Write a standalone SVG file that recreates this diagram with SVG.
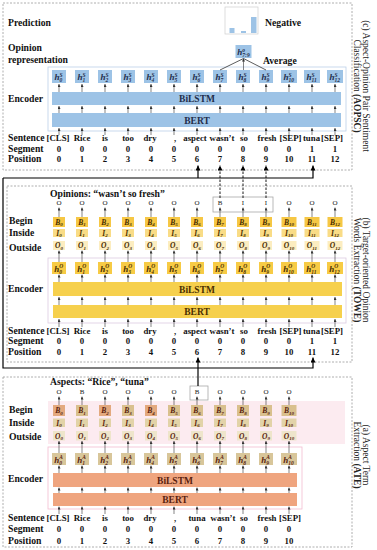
<svg xmlns="http://www.w3.org/2000/svg" width="377" height="550" viewBox="0 0 377 550">
<defs>
<marker id="t" viewBox="0 0 6 6" refX="6" refY="3" markerWidth="3" markerHeight="3" orient="auto" markerUnits="userSpaceOnUse"><path d="M0,0L6,3L0,6z" fill="#333"/></marker>
<marker id="a" viewBox="0 0 10 10" refX="10" refY="5" markerWidth="5" markerHeight="5" orient="auto" markerUnits="userSpaceOnUse"><path d="M0,0L10,5L0,10z" fill="#000"/></marker>
<style>
text{font-family:"Liberation Serif","Times New Roman",serif;fill:#111}
.lb{font-size:9.7px;font-weight:bold}
.tk{font-size:8.8px;font-weight:bold;text-anchor:middle}
.bar{font-size:9.5px;font-weight:bold;text-anchor:middle}
.side{font-size:9.5px;text-anchor:middle;fill:#222}
.out{font-size:7px;text-anchor:middle;fill:#222}
.hv{font-size:9px;font-weight:bold;font-style:italic}
.sp{font-size:5.5px}
.cv{font-size:7.5px;font-weight:bold;font-style:italic}
.cs{font-size:5px}
.panel{fill:none;stroke:#9a9a9a;stroke-width:0.8;stroke-dasharray:2 1.5}
.tick{stroke:#333;stroke-width:0.6;marker-end:url(#t)}
.big{fill:none;stroke:#000;stroke-width:1.2;marker-end:url(#a)}
.dsh{fill:none;stroke:#000;stroke-width:0.9;stroke-dasharray:2.5 1.5;marker-end:url(#a)}
.hc{fill:#9DC3E6}
.ho{fill:#F7CB45}
.ha{fill:#D8C69A}
.bo{fill:#F6C744}.io{fill:#F9DC86}.oo{fill:#FCEDC0}
.ba{fill:#D9C08E}.ba2{fill:#E3A97E}.ia{fill:#E2D3A8}.oa{fill:#EEE5CB}
.tc{fill:#1F2D4A}.to{fill:#4A2E00}.ta{fill:#5A1E0E}
</style>
</defs>

<!-- ================= Panel (c) ================= -->
<g id="panel-c">
<rect class="panel" x="3" y="3" width="349" height="167"/>
<text class="lb" x="8" y="26">Prediction</text>
<text class="lb" x="8" y="51">Opinion</text>
<text class="lb" x="8" y="62.5">representation</text>
<text class="lb" x="8" y="101.5">Encoder</text>
<text class="lb" x="8" y="141">Sentence</text>
<text class="lb" x="8" y="151.5">Segment</text>
<text class="lb" x="8" y="162">Position</text>
<text class="side" transform="translate(363,86) rotate(90)">(c) Aspect-Opinion Pair Sentiment</text>
<text class="side" transform="translate(354,86) rotate(90)">Classification <tspan font-weight="bold">(AOPSC)</tspan></text>
<rect x="48" y="67" width="298" height="64" fill="none" stroke="#BCD0E8" stroke-width="0.8"/>
</g>
<g id="c-pred">
<rect x="225" y="7" width="33" height="27" fill="#fff" stroke="#cfcfcf" stroke-width="0.7"/>
<rect x="229.5" y="28" width="5" height="5" fill="#9DC3E6"/>
<rect x="241" y="31" width="5" height="2" fill="#9DC3E6"/>
<rect x="251" y="17" width="5.5" height="16" fill="#9DC3E6"/>
<text class="lb" x="265" y="26" font-size="10">Negative</text>
</g>
<g id="c-hop">
<rect class="hc" x="235.5" y="45" width="16" height="13"/>
<text class="hv tc" x="237.3" y="55">h<tspan class="sp" dy="-3.5">o</tspan><tspan class="sp" dx="-2.7" dy="5.5">7:9</tspan></text>
<text class="lb" x="263" y="64">Average</text>
</g>
<g id="c-h0"><rect class="hc" x="52" y="70" width="14" height="13"/><text class="hv tc" x="54.5" y="80">h<tspan class="sp" dy="-3.5">S</tspan><tspan class="sp" dx="-3.1" dy="5.5">0</tspan></text></g>
<g id="c-h1"><rect class="hc" x="75" y="70" width="14" height="13"/><text class="hv tc" x="77.5" y="80">h<tspan class="sp" dy="-3.5">S</tspan><tspan class="sp" dx="-3.1" dy="5.5">1</tspan></text></g>
<g id="c-h2"><rect class="hc" x="98" y="70" width="14" height="13"/><text class="hv tc" x="100.5" y="80">h<tspan class="sp" dy="-3.5">S</tspan><tspan class="sp" dx="-3.1" dy="5.5">2</tspan></text></g>
<g id="c-h3"><rect class="hc" x="121" y="70" width="14" height="13"/><text class="hv tc" x="123.5" y="80">h<tspan class="sp" dy="-3.5">S</tspan><tspan class="sp" dx="-3.1" dy="5.5">3</tspan></text></g>
<g id="c-h4"><rect class="hc" x="144" y="70" width="14" height="13"/><text class="hv tc" x="146.5" y="80">h<tspan class="sp" dy="-3.5">S</tspan><tspan class="sp" dx="-3.1" dy="5.5">4</tspan></text></g>
<g id="c-h5"><rect class="hc" x="167" y="70" width="14" height="13"/><text class="hv tc" x="169.5" y="80">h<tspan class="sp" dy="-3.5">S</tspan><tspan class="sp" dx="-3.1" dy="5.5">5</tspan></text></g>
<g id="c-h6"><rect class="hc" x="190" y="70" width="14" height="13"/><text class="hv tc" x="192.5" y="80">h<tspan class="sp" dy="-3.5">S</tspan><tspan class="sp" dx="-3.1" dy="5.5">6</tspan></text></g>
<g id="c-h7"><rect class="hc" x="213" y="70" width="14" height="13"/><text class="hv tc" x="215.5" y="80">h<tspan class="sp" dy="-3.5">S</tspan><tspan class="sp" dx="-3.1" dy="5.5">7</tspan></text></g>
<g id="c-h8"><rect class="hc" x="236" y="70" width="14" height="13"/><text class="hv tc" x="238.5" y="80">h<tspan class="sp" dy="-3.5">S</tspan><tspan class="sp" dx="-3.1" dy="5.5">8</tspan></text></g>
<g id="c-h9"><rect class="hc" x="259" y="70" width="14" height="13"/><text class="hv tc" x="261.5" y="80">h<tspan class="sp" dy="-3.5">S</tspan><tspan class="sp" dx="-3.1" dy="5.5">9</tspan></text></g>
<g id="c-h10"><rect class="hc" x="281" y="70" width="16" height="13"/><text class="hv tc" x="283.5" y="80">h<tspan class="sp" dy="-3.5">S</tspan><tspan class="sp" dx="-3.1" dy="5.5">10</tspan></text></g>
<g id="c-h11"><rect class="hc" x="304" y="70" width="16" height="13"/><text class="hv tc" x="306.5" y="80">h<tspan class="sp" dy="-3.5">S</tspan><tspan class="sp" dx="-3.1" dy="5.5">11</tspan></text></g>
<g id="c-h12"><rect class="hc" x="327" y="70" width="16" height="13"/><text class="hv tc" x="329.5" y="80">h<tspan class="sp" dy="-3.5">S</tspan><tspan class="sp" dx="-3.1" dy="5.5">12</tspan></text></g>
<g id="c-bilstm"><rect class="hc" x="52" y="92" width="289" height="13"/><text class="bar tc" x="197" y="102">BiLSTM</text></g>
<g id="c-bert"><rect class="hc" x="52" y="113" width="289" height="14"/><text class="bar tc" x="197" y="123.5">BERT</text></g>
<g id="c-tokens">
<text class="tk" x="58" y="141">[CLS]</text><text class="tk" x="82" y="141">Rice</text><text class="tk" x="105" y="141">is</text><text class="tk" x="128" y="141">too</text><text class="tk" x="150" y="141">dry</text><text class="tk" x="175" y="141">,</text><text class="tk" x="195" y="141">aspect</text><text class="tk" x="222" y="141">wasn’t</text><text class="tk" x="244" y="141">so</text><text class="tk" x="267" y="141">fresh</text><text class="tk" x="290.5" y="141">[SEP]</text><text class="tk" x="311.5" y="141">tuna</text><text class="tk" x="332" y="141">[SEP]</text>
<text class="tk" x="59" y="151.5">0</text><text class="tk" x="82" y="151.5">0</text><text class="tk" x="105" y="151.5">0</text><text class="tk" x="128" y="151.5">0</text><text class="tk" x="151" y="151.5">0</text><text class="tk" x="174" y="151.5">0</text><text class="tk" x="197" y="151.5">0</text><text class="tk" x="220" y="151.5">0</text><text class="tk" x="243" y="151.5">0</text><text class="tk" x="266" y="151.5">0</text><text class="tk" x="289" y="151.5">0</text><text class="tk" x="312" y="151.5">1</text><text class="tk" x="335" y="151.5">1</text>
<text class="tk" x="59" y="162">0</text><text class="tk" x="82" y="162">1</text><text class="tk" x="105" y="162">2</text><text class="tk" x="128" y="162">3</text><text class="tk" x="151" y="162">4</text><text class="tk" x="174" y="162">5</text><text class="tk" x="197" y="162">6</text><text class="tk" x="220" y="162">7</text><text class="tk" x="243" y="162">8</text><text class="tk" x="266" y="162">9</text><text class="tk" x="289" y="162">10</text><text class="tk" x="312" y="162">11</text><text class="tk" x="335" y="162">12</text>
</g>

<!-- ================= Panel (b) ================= -->
<g id="panel-b">
<rect class="panel" x="7" y="186" width="345" height="176"/>
<text class="lb" x="50" y="197">Opinions: “wasn’t so fresh”</text>
<text class="lb" x="9" y="224">Begin</text>
<text class="lb" x="9" y="236">Inside</text>
<text class="lb" x="9" y="251">Outside</text>
<text class="lb" x="8" y="291.5">Encoder</text>
<text class="lb" x="8" y="334">Sentence</text>
<text class="lb" x="8" y="344">Segment</text>
<text class="lb" x="8" y="354.5">Position</text>
<text class="side" transform="translate(363,270) rotate(90)">(b) Target-oriented Opinion</text>
<text class="side" transform="translate(354,270) rotate(90)">Words Extraction <tspan font-weight="bold">(TOWE)</tspan></text>
<rect x="48" y="258" width="298" height="65" fill="none" stroke="#DCCBE0" stroke-width="0.8"/>
</g>
<g id="b-out">
<text class="out" x="59" y="205">O</text><text class="out" x="82" y="205">O</text><text class="out" x="105" y="205">O</text><text class="out" x="128" y="205">O</text><text class="out" x="151" y="205">O</text><text class="out" x="174" y="205">O</text><text class="out" x="197" y="205">O</text><text class="out" x="220" y="205">B</text><text class="out" x="243" y="205">I</text><text class="out" x="266" y="205">I</text><text class="out" x="289" y="205">O</text><text class="out" x="312" y="205">O</text><text class="out" x="335" y="205">O</text>
<rect x="213" y="197" width="60" height="15" fill="none" stroke="#a8a8a8" stroke-width="0.8"/>
</g>
<g id="b-col0"><rect class="bo" x="53" y="217" width="12" height="10"/><text class="cv to" x="55.2" y="224.5">B<tspan class="cs" dy="1.5">0</tspan></text><rect class="io" x="53" y="229" width="12" height="8"/><text class="cv to" x="56.3" y="235.5">I<tspan class="cs" dy="1.5">0</tspan></text><rect class="oo" x="53" y="241" width="12" height="9"/><text class="cv to" x="55" y="248">O<tspan class="cs" dy="1.5">0</tspan></text></g>
<g id="b-col1"><rect class="bo" x="76" y="217" width="12" height="10"/><text class="cv to" x="78.2" y="224.5">B<tspan class="cs" dy="1.5">1</tspan></text><rect class="io" x="76" y="229" width="12" height="8"/><text class="cv to" x="79.3" y="235.5">I<tspan class="cs" dy="1.5">1</tspan></text><rect class="oo" x="76" y="241" width="12" height="9"/><text class="cv to" x="78" y="248">O<tspan class="cs" dy="1.5">1</tspan></text></g>
<g id="b-col2"><rect class="bo" x="99" y="217" width="12" height="10"/><text class="cv to" x="101.2" y="224.5">B<tspan class="cs" dy="1.5">2</tspan></text><rect class="io" x="99" y="229" width="12" height="8"/><text class="cv to" x="102.3" y="235.5">I<tspan class="cs" dy="1.5">2</tspan></text><rect class="oo" x="99" y="241" width="12" height="9"/><text class="cv to" x="101" y="248">O<tspan class="cs" dy="1.5">2</tspan></text></g>
<g id="b-col3"><rect class="bo" x="122" y="217" width="12" height="10"/><text class="cv to" x="124.2" y="224.5">B<tspan class="cs" dy="1.5">3</tspan></text><rect class="io" x="122" y="229" width="12" height="8"/><text class="cv to" x="125.3" y="235.5">I<tspan class="cs" dy="1.5">3</tspan></text><rect class="oo" x="122" y="241" width="12" height="9"/><text class="cv to" x="124" y="248">O<tspan class="cs" dy="1.5">3</tspan></text></g>
<g id="b-col4"><rect class="bo" x="145" y="217" width="12" height="10"/><text class="cv to" x="147.2" y="224.5">B<tspan class="cs" dy="1.5">4</tspan></text><rect class="io" x="145" y="229" width="12" height="8"/><text class="cv to" x="148.3" y="235.5">I<tspan class="cs" dy="1.5">4</tspan></text><rect class="oo" x="145" y="241" width="12" height="9"/><text class="cv to" x="147" y="248">O<tspan class="cs" dy="1.5">4</tspan></text></g>
<g id="b-col5"><rect class="bo" x="168" y="217" width="12" height="10"/><text class="cv to" x="170.2" y="224.5">B<tspan class="cs" dy="1.5">5</tspan></text><rect class="io" x="168" y="229" width="12" height="8"/><text class="cv to" x="171.3" y="235.5">I<tspan class="cs" dy="1.5">5</tspan></text><rect class="oo" x="168" y="241" width="12" height="9"/><text class="cv to" x="170" y="248">O<tspan class="cs" dy="1.5">5</tspan></text></g>
<g id="b-col6"><rect class="bo" x="191" y="217" width="12" height="10"/><text class="cv to" x="193.2" y="224.5">B<tspan class="cs" dy="1.5">6</tspan></text><rect class="io" x="191" y="229" width="12" height="8"/><text class="cv to" x="194.3" y="235.5">I<tspan class="cs" dy="1.5">6</tspan></text><rect class="oo" x="191" y="241" width="12" height="9"/><text class="cv to" x="193" y="248">O<tspan class="cs" dy="1.5">6</tspan></text></g>
<g id="b-col7"><rect class="bo" x="214" y="217" width="12" height="10"/><text class="cv to" x="216.2" y="224.5">B<tspan class="cs" dy="1.5">7</tspan></text><rect class="io" x="214" y="229" width="12" height="8"/><text class="cv to" x="217.3" y="235.5">I<tspan class="cs" dy="1.5">7</tspan></text><rect class="oo" x="214" y="241" width="12" height="9"/><text class="cv to" x="216" y="248">O<tspan class="cs" dy="1.5">7</tspan></text></g>
<g id="b-col8"><rect class="bo" x="237" y="217" width="12" height="10"/><text class="cv to" x="239.2" y="224.5">B<tspan class="cs" dy="1.5">8</tspan></text><rect class="io" x="237" y="229" width="12" height="8"/><text class="cv to" x="240.3" y="235.5">I<tspan class="cs" dy="1.5">8</tspan></text><rect class="oo" x="237" y="241" width="12" height="9"/><text class="cv to" x="239" y="248">O<tspan class="cs" dy="1.5">8</tspan></text></g>
<g id="b-col9"><rect class="bo" x="260" y="217" width="12" height="10"/><text class="cv to" x="262.2" y="224.5">B<tspan class="cs" dy="1.5">9</tspan></text><rect class="io" x="260" y="229" width="12" height="8"/><text class="cv to" x="263.3" y="235.5">I<tspan class="cs" dy="1.5">9</tspan></text><rect class="oo" x="260" y="241" width="12" height="9"/><text class="cv to" x="262" y="248">O<tspan class="cs" dy="1.5">9</tspan></text></g>
<g id="b-col10"><rect class="bo" x="281.5" y="217" width="15" height="10"/><text class="cv to" x="284" y="224.5">B<tspan class="cs" dy="1.5">10</tspan></text><rect class="io" x="281.5" y="229" width="15" height="8"/><text class="cv to" x="285" y="235.5">I<tspan class="cs" dy="1.5">10</tspan></text><rect class="oo" x="281.5" y="241" width="15" height="9"/><text class="cv to" x="283.8" y="248">O<tspan class="cs" dy="1.5">10</tspan></text></g>
<g id="b-col11"><rect class="bo" x="304.5" y="217" width="15" height="10"/><text class="cv to" x="307" y="224.5">B<tspan class="cs" dy="1.5">11</tspan></text><rect class="io" x="304.5" y="229" width="15" height="8"/><text class="cv to" x="308" y="235.5">I<tspan class="cs" dy="1.5">11</tspan></text><rect class="oo" x="304.5" y="241" width="15" height="9"/><text class="cv to" x="306.8" y="248">O<tspan class="cs" dy="1.5">11</tspan></text></g>
<g id="b-col12"><rect class="bo" x="327.5" y="217" width="15" height="10"/><text class="cv to" x="330" y="224.5">B<tspan class="cs" dy="1.5">12</tspan></text><rect class="io" x="327.5" y="229" width="15" height="8"/><text class="cv to" x="331" y="235.5">I<tspan class="cs" dy="1.5">12</tspan></text><rect class="oo" x="327.5" y="241" width="15" height="9"/><text class="cv to" x="329.8" y="248">O<tspan class="cs" dy="1.5">12</tspan></text></g>
<g id="b-h0"><rect class="ho" x="52" y="262" width="14" height="12"/><text class="hv to" x="54.2" y="271.5">h<tspan class="sp" dy="-3.5">O</tspan><tspan class="sp" dx="-4" dy="5.5">0</tspan></text></g>
<g id="b-h1"><rect class="ho" x="75" y="262" width="14" height="12"/><text class="hv to" x="77.2" y="271.5">h<tspan class="sp" dy="-3.5">O</tspan><tspan class="sp" dx="-4" dy="5.5">1</tspan></text></g>
<g id="b-h2"><rect class="ho" x="98" y="262" width="14" height="12"/><text class="hv to" x="100.2" y="271.5">h<tspan class="sp" dy="-3.5">O</tspan><tspan class="sp" dx="-4" dy="5.5">2</tspan></text></g>
<g id="b-h3"><rect class="ho" x="121" y="262" width="14" height="12"/><text class="hv to" x="123.2" y="271.5">h<tspan class="sp" dy="-3.5">O</tspan><tspan class="sp" dx="-4" dy="5.5">3</tspan></text></g>
<g id="b-h4"><rect class="ho" x="144" y="262" width="14" height="12"/><text class="hv to" x="146.2" y="271.5">h<tspan class="sp" dy="-3.5">O</tspan><tspan class="sp" dx="-4" dy="5.5">4</tspan></text></g>
<g id="b-h5"><rect class="ho" x="167" y="262" width="14" height="12"/><text class="hv to" x="169.2" y="271.5">h<tspan class="sp" dy="-3.5">O</tspan><tspan class="sp" dx="-4" dy="5.5">5</tspan></text></g>
<g id="b-h6"><rect class="ho" x="190" y="262" width="14" height="12"/><text class="hv to" x="192.2" y="271.5">h<tspan class="sp" dy="-3.5">O</tspan><tspan class="sp" dx="-4" dy="5.5">6</tspan></text></g>
<g id="b-h7"><rect class="ho" x="213" y="262" width="14" height="12"/><text class="hv to" x="215.2" y="271.5">h<tspan class="sp" dy="-3.5">O</tspan><tspan class="sp" dx="-4" dy="5.5">7</tspan></text></g>
<g id="b-h8"><rect class="ho" x="236" y="262" width="14" height="12"/><text class="hv to" x="238.2" y="271.5">h<tspan class="sp" dy="-3.5">O</tspan><tspan class="sp" dx="-4" dy="5.5">8</tspan></text></g>
<g id="b-h9"><rect class="ho" x="259" y="262" width="14" height="12"/><text class="hv to" x="261.2" y="271.5">h<tspan class="sp" dy="-3.5">O</tspan><tspan class="sp" dx="-4" dy="5.5">9</tspan></text></g>
<g id="b-h10"><rect class="ho" x="281" y="262" width="16" height="12"/><text class="hv to" x="283.3" y="271.5">h<tspan class="sp" dy="-3.5">O</tspan><tspan class="sp" dx="-4" dy="5.5">10</tspan></text></g>
<g id="b-h11"><rect class="ho" x="304" y="262" width="16" height="12"/><text class="hv to" x="306.3" y="271.5">h<tspan class="sp" dy="-3.5">O</tspan><tspan class="sp" dx="-4" dy="5.5">11</tspan></text></g>
<g id="b-h12"><rect class="ho" x="327" y="262" width="16" height="12"/><text class="hv to" x="329.3" y="271.5">h<tspan class="sp" dy="-3.5">O</tspan><tspan class="sp" dx="-4" dy="5.5">12</tspan></text></g>
<g id="b-bilstm"><rect x="53" y="282" width="289" height="14" fill="#F6D04D"/><text class="bar to" x="197" y="292.5">BiLSTM</text></g>
<g id="b-bert"><rect x="53" y="305" width="289" height="13" fill="#F6D04D"/><text class="bar to" x="197" y="315">BERT</text></g>
<g id="b-tokens">
<text class="tk" x="58" y="334">[CLS]</text><text class="tk" x="82" y="334">Rice</text><text class="tk" x="105" y="334">is</text><text class="tk" x="128" y="334">too</text><text class="tk" x="150" y="334">dry</text><text class="tk" x="175" y="334">,</text><text class="tk" x="195" y="334">aspect</text><text class="tk" x="222" y="334">wasn’t</text><text class="tk" x="244" y="334">so</text><text class="tk" x="267" y="334">fresh</text><text class="tk" x="290.5" y="334">[SEP]</text><text class="tk" x="311.5" y="334">tuna</text><text class="tk" x="332" y="334">[SEP]</text>
<text class="tk" x="59" y="344">0</text><text class="tk" x="82" y="344">0</text><text class="tk" x="105" y="344">0</text><text class="tk" x="128" y="344">0</text><text class="tk" x="151" y="344">0</text><text class="tk" x="174" y="344">0</text><text class="tk" x="197" y="344">0</text><text class="tk" x="220" y="344">0</text><text class="tk" x="243" y="344">0</text><text class="tk" x="266" y="344">0</text><text class="tk" x="289" y="344">0</text><text class="tk" x="312" y="344">1</text><text class="tk" x="335" y="344">1</text>
<text class="tk" x="59" y="354.5">0</text><text class="tk" x="82" y="354.5">1</text><text class="tk" x="105" y="354.5">2</text><text class="tk" x="128" y="354.5">3</text><text class="tk" x="151" y="354.5">4</text><text class="tk" x="174" y="354.5">5</text><text class="tk" x="197" y="354.5">6</text><text class="tk" x="220" y="354.5">7</text><text class="tk" x="243" y="354.5">8</text><text class="tk" x="266" y="354.5">9</text><text class="tk" x="289" y="354.5">10</text><text class="tk" x="312" y="354.5">11</text><text class="tk" x="335" y="354.5">12</text>
</g>

<!-- ================= Panel (a) ================= -->
<g id="panel-a">
<rect class="panel" x="3" y="377" width="349" height="170"/>
<rect x="48" y="401" width="297" height="43" fill="#FCEBF0"/>
<text class="lb" x="50" y="385">Aspects: “Rice”, “tuna”</text>
<text class="lb" x="9" y="413">Begin</text>
<text class="lb" x="9" y="426">Inside</text>
<text class="lb" x="9" y="440">Outside</text>
<text class="lb" x="8" y="482">Encoder</text>
<text class="lb" x="8" y="521">Sentence</text>
<text class="lb" x="8" y="531.5">Segment</text>
<text class="lb" x="8" y="543.5">Position</text>
<text class="side" transform="translate(363,455) rotate(90)">(a) Aspect Term</text>
<text class="side" transform="translate(354,455) rotate(90)">Extraction <tspan font-weight="bold">(ATE)</tspan></text>
<rect x="48" y="447" width="254" height="62" fill="none" stroke="#F2BCD0" stroke-width="0.8"/>
</g>
<g id="a-out">
<text class="out" x="59" y="394">O</text><text class="out" x="82" y="394">B</text><text class="out" x="105" y="394">O</text><text class="out" x="128" y="394">O</text><text class="out" x="151" y="394">O</text><text class="out" x="174" y="394">O</text><text class="out" x="197" y="394">B</text><text class="out" x="220" y="394">O</text><text class="out" x="243" y="394">O</text><text class="out" x="266" y="394">O</text><text class="out" x="289" y="394">O</text>
<rect x="190" y="386" width="18" height="14" fill="none" stroke="#a8a8a8" stroke-width="0.8"/>
</g>
<g id="a-col0"><rect class="ba2" x="53" y="405" width="12" height="11"/><text class="cv ta" x="55.2" y="413">B<tspan class="cs" dy="1.5">0</tspan></text><rect class="ia" x="53" y="418.5" width="12" height="8.5"/><text class="cv ta" x="56.3" y="425.5">I<tspan class="cs" dy="1.5">0</tspan></text><rect class="oa" x="53" y="431" width="12" height="9.5"/><text class="cv ta" x="55" y="438.5">O<tspan class="cs" dy="1.5">0</tspan></text></g>
<g id="a-col1"><rect class="ba" x="76" y="405" width="12" height="11"/><text class="cv ta" x="78.2" y="413">B<tspan class="cs" dy="1.5">1</tspan></text><rect class="ia" x="76" y="418.5" width="12" height="8.5"/><text class="cv ta" x="79.3" y="425.5">I<tspan class="cs" dy="1.5">1</tspan></text><rect class="oa" x="76" y="431" width="12" height="9.5"/><text class="cv ta" x="78" y="438.5">O<tspan class="cs" dy="1.5">1</tspan></text></g>
<g id="a-col2"><rect class="ba2" x="99" y="405" width="12" height="11"/><text class="cv ta" x="101.2" y="413">B<tspan class="cs" dy="1.5">2</tspan></text><rect class="ia" x="99" y="418.5" width="12" height="8.5"/><text class="cv ta" x="102.3" y="425.5">I<tspan class="cs" dy="1.5">2</tspan></text><rect class="oa" x="99" y="431" width="12" height="9.5"/><text class="cv ta" x="101" y="438.5">O<tspan class="cs" dy="1.5">2</tspan></text></g>
<g id="a-col3"><rect class="ba" x="122" y="405" width="12" height="11"/><text class="cv ta" x="124.2" y="413">B<tspan class="cs" dy="1.5">3</tspan></text><rect class="ia" x="122" y="418.5" width="12" height="8.5"/><text class="cv ta" x="125.3" y="425.5">I<tspan class="cs" dy="1.5">3</tspan></text><rect class="oa" x="122" y="431" width="12" height="9.5"/><text class="cv ta" x="124" y="438.5">O<tspan class="cs" dy="1.5">3</tspan></text></g>
<g id="a-col4"><rect class="ba2" x="145" y="405" width="12" height="11"/><text class="cv ta" x="147.2" y="413">B<tspan class="cs" dy="1.5">4</tspan></text><rect class="ia" x="145" y="418.5" width="12" height="8.5"/><text class="cv ta" x="148.3" y="425.5">I<tspan class="cs" dy="1.5">4</tspan></text><rect class="oa" x="145" y="431" width="12" height="9.5"/><text class="cv ta" x="147" y="438.5">O<tspan class="cs" dy="1.5">4</tspan></text></g>
<g id="a-col5"><rect class="ba" x="168" y="405" width="12" height="11"/><text class="cv ta" x="170.2" y="413">B<tspan class="cs" dy="1.5">5</tspan></text><rect class="ia" x="168" y="418.5" width="12" height="8.5"/><text class="cv ta" x="171.3" y="425.5">I<tspan class="cs" dy="1.5">5</tspan></text><rect class="oa" x="168" y="431" width="12" height="9.5"/><text class="cv ta" x="170" y="438.5">O<tspan class="cs" dy="1.5">5</tspan></text></g>
<g id="a-col6"><rect class="ba" x="191" y="405" width="12" height="11"/><text class="cv ta" x="193.2" y="413">B<tspan class="cs" dy="1.5">6</tspan></text><rect class="ia" x="191" y="418.5" width="12" height="8.5"/><text class="cv ta" x="194.3" y="425.5">I<tspan class="cs" dy="1.5">6</tspan></text><rect class="oa" x="191" y="431" width="12" height="9.5"/><text class="cv ta" x="193" y="438.5">O<tspan class="cs" dy="1.5">6</tspan></text></g>
<g id="a-col7"><rect class="ba" x="214" y="405" width="12" height="11"/><text class="cv ta" x="216.2" y="413">B<tspan class="cs" dy="1.5">7</tspan></text><rect class="ia" x="214" y="418.5" width="12" height="8.5"/><text class="cv ta" x="217.3" y="425.5">I<tspan class="cs" dy="1.5">7</tspan></text><rect class="oa" x="214" y="431" width="12" height="9.5"/><text class="cv ta" x="216" y="438.5">O<tspan class="cs" dy="1.5">7</tspan></text></g>
<g id="a-col8"><rect class="ba" x="237" y="405" width="12" height="11"/><text class="cv ta" x="239.2" y="413">B<tspan class="cs" dy="1.5">8</tspan></text><rect class="ia" x="237" y="418.5" width="12" height="8.5"/><text class="cv ta" x="240.3" y="425.5">I<tspan class="cs" dy="1.5">8</tspan></text><rect class="oa" x="237" y="431" width="12" height="9.5"/><text class="cv ta" x="239" y="438.5">O<tspan class="cs" dy="1.5">8</tspan></text></g>
<g id="a-col9"><rect class="ba" x="260" y="405" width="12" height="11"/><text class="cv ta" x="262.2" y="413">B<tspan class="cs" dy="1.5">9</tspan></text><rect class="ia" x="260" y="418.5" width="12" height="8.5"/><text class="cv ta" x="263.3" y="425.5">I<tspan class="cs" dy="1.5">9</tspan></text><rect class="oa" x="260" y="431" width="12" height="9.5"/><text class="cv ta" x="262" y="438.5">O<tspan class="cs" dy="1.5">9</tspan></text></g>
<g id="a-col10"><rect class="ba" x="281.5" y="405" width="15" height="11"/><text class="cv ta" x="284" y="413">B<tspan class="cs" dy="1.5">10</tspan></text><rect class="ia" x="281.5" y="418.5" width="15" height="8.5"/><text class="cv ta" x="285" y="425.5">I<tspan class="cs" dy="1.5">10</tspan></text><rect class="oa" x="281.5" y="431" width="15" height="9.5"/><text class="cv ta" x="283.8" y="438.5">O<tspan class="cs" dy="1.5">10</tspan></text></g>
<g id="a-h0"><rect class="ha" x="52" y="453" width="14" height="12"/><text class="hv ta" x="54.2" y="462.5">h<tspan class="sp" dy="-3.5">A</tspan><tspan class="sp" dx="-3.7" dy="5.5">0</tspan></text></g>
<g id="a-h1"><rect class="ha" x="75" y="453" width="14" height="12"/><text class="hv ta" x="77.2" y="462.5">h<tspan class="sp" dy="-3.5">A</tspan><tspan class="sp" dx="-3.7" dy="5.5">1</tspan></text></g>
<g id="a-h2"><rect class="ha" x="98" y="453" width="14" height="12"/><text class="hv ta" x="100.2" y="462.5">h<tspan class="sp" dy="-3.5">A</tspan><tspan class="sp" dx="-3.7" dy="5.5">2</tspan></text></g>
<g id="a-h3"><rect class="ha" x="121" y="453" width="14" height="12"/><text class="hv ta" x="123.2" y="462.5">h<tspan class="sp" dy="-3.5">A</tspan><tspan class="sp" dx="-3.7" dy="5.5">3</tspan></text></g>
<g id="a-h4"><rect class="ha" x="144" y="453" width="14" height="12"/><text class="hv ta" x="146.2" y="462.5">h<tspan class="sp" dy="-3.5">A</tspan><tspan class="sp" dx="-3.7" dy="5.5">4</tspan></text></g>
<g id="a-h5"><rect class="ha" x="167" y="453" width="14" height="12"/><text class="hv ta" x="169.2" y="462.5">h<tspan class="sp" dy="-3.5">A</tspan><tspan class="sp" dx="-3.7" dy="5.5">5</tspan></text></g>
<g id="a-h6"><rect class="ha" x="190" y="453" width="14" height="12"/><text class="hv ta" x="192.2" y="462.5">h<tspan class="sp" dy="-3.5">A</tspan><tspan class="sp" dx="-3.7" dy="5.5">6</tspan></text></g>
<g id="a-h7"><rect class="ha" x="213" y="453" width="14" height="12"/><text class="hv ta" x="215.2" y="462.5">h<tspan class="sp" dy="-3.5">A</tspan><tspan class="sp" dx="-3.7" dy="5.5">7</tspan></text></g>
<g id="a-h8"><rect class="ha" x="236" y="453" width="14" height="12"/><text class="hv ta" x="238.2" y="462.5">h<tspan class="sp" dy="-3.5">A</tspan><tspan class="sp" dx="-3.7" dy="5.5">8</tspan></text></g>
<g id="a-h9"><rect class="ha" x="259" y="453" width="14" height="12"/><text class="hv ta" x="261.2" y="462.5">h<tspan class="sp" dy="-3.5">A</tspan><tspan class="sp" dx="-3.7" dy="5.5">9</tspan></text></g>
<g id="a-h10"><rect class="ha" x="281" y="453" width="16" height="12"/><text class="hv ta" x="283.3" y="462.5">h<tspan class="sp" dy="-3.5">A</tspan><tspan class="sp" dx="-3.7" dy="5.5">10</tspan></text></g>
<g id="a-bilstm"><rect x="53" y="473" width="244" height="14" fill="#EFA57F"/><text class="bar ta" x="175" y="483.5">BiLSTM</text></g>
<g id="a-bert"><rect x="53" y="493" width="244" height="13" fill="#EFA57F"/><text class="bar ta" x="175" y="503">BERT</text></g>
<g id="a-tokens">
<text class="tk" x="58" y="521">[CLS]</text><text class="tk" x="82" y="521">Rice</text><text class="tk" x="105" y="521">is</text><text class="tk" x="128" y="521">too</text><text class="tk" x="150" y="521">dry</text><text class="tk" x="175" y="521">,</text><text class="tk" x="197" y="521">tuna</text><text class="tk" x="223" y="521">wasn’t</text><text class="tk" x="244" y="521">so</text><text class="tk" x="267" y="521">fresh</text><text class="tk" x="290" y="521">[SEP]</text>
<text class="tk" x="59" y="531.5">0</text><text class="tk" x="82" y="531.5">0</text><text class="tk" x="105" y="531.5">0</text><text class="tk" x="128" y="531.5">0</text><text class="tk" x="151" y="531.5">0</text><text class="tk" x="174" y="531.5">0</text><text class="tk" x="197" y="531.5">0</text><text class="tk" x="220" y="531.5">0</text><text class="tk" x="243" y="531.5">0</text><text class="tk" x="266" y="531.5">0</text><text class="tk" x="289" y="531.5">0</text>
<text class="tk" x="59" y="543.5">0</text><text class="tk" x="82" y="543.5">1</text><text class="tk" x="105" y="543.5">2</text><text class="tk" x="128" y="543.5">3</text><text class="tk" x="151" y="543.5">4</text><text class="tk" x="174" y="543.5">5</text><text class="tk" x="197" y="543.5">6</text><text class="tk" x="220" y="543.5">7</text><text class="tk" x="243" y="543.5">8</text><text class="tk" x="266" y="543.5">9</text><text class="tk" x="289" y="543.5">10</text>
</g>

<!-- ================= Connectors ================= -->
<g id="connectors">
<g id="c-ticks">
<path class="tick" d="M59,92V84"/><path class="tick" d="M82,92V84"/><path class="tick" d="M105,92V84"/><path class="tick" d="M128,92V84"/><path class="tick" d="M151,92V84"/><path class="tick" d="M174,92V84"/><path class="tick" d="M197,92V84"/><path class="tick" d="M220,92V84"/><path class="tick" d="M243,92V84"/><path class="tick" d="M266,92V84"/><path class="tick" d="M289,92V84"/><path class="tick" d="M312,92V84"/><path class="tick" d="M335,92V84"/>
<path class="tick" d="M59,113V106"/><path class="tick" d="M82,113V106"/><path class="tick" d="M105,113V106"/><path class="tick" d="M128,113V106"/><path class="tick" d="M151,113V106"/><path class="tick" d="M174,113V106"/><path class="tick" d="M197,113V106"/><path class="tick" d="M220,113V106"/><path class="tick" d="M243,113V106"/><path class="tick" d="M266,113V106"/><path class="tick" d="M289,113V106"/><path class="tick" d="M312,113V106"/><path class="tick" d="M335,113V106"/>
<path class="tick" d="M59,135V128"/><path class="tick" d="M82,135V128"/><path class="tick" d="M105,135V128"/><path class="tick" d="M128,135V128"/><path class="tick" d="M151,135V128"/><path class="tick" d="M174,135V128"/><path class="tick" d="M197,135V128"/><path class="tick" d="M220,135V128"/><path class="tick" d="M243,135V128"/><path class="tick" d="M266,135V128"/><path class="tick" d="M289,135V128"/><path class="tick" d="M312,135V128"/><path class="tick" d="M335,135V128"/>
<path d="M220,70L243.5,58.5M266,70L243.5,58.5" stroke="#333" stroke-width="0.8" fill="none"/>
<path class="tick" d="M243.5,70V58.5"/>
</g>
<g id="b-ticks">
<path class="tick" d="M59,217V207.5"/><path class="tick" d="M82,217V207.5"/><path class="tick" d="M105,217V207.5"/><path class="tick" d="M128,217V207.5"/><path class="tick" d="M151,217V207.5"/><path class="tick" d="M174,217V207.5"/><path class="tick" d="M197,217V207.5"/><path class="tick" d="M220,217V207.5"/><path class="tick" d="M243,217V207.5"/><path class="tick" d="M266,217V207.5"/><path class="tick" d="M289,217V207.5"/><path class="tick" d="M312,217V207.5"/><path class="tick" d="M335,217V207.5"/>
<path class="tick" d="M59,262V250.5"/><path class="tick" d="M82,262V250.5"/><path class="tick" d="M105,262V250.5"/><path class="tick" d="M128,262V250.5"/><path class="tick" d="M151,262V250.5"/><path class="tick" d="M174,262V250.5"/><path class="tick" d="M197,262V250.5"/><path class="tick" d="M220,262V250.5"/><path class="tick" d="M243,262V250.5"/><path class="tick" d="M266,262V250.5"/><path class="tick" d="M289,262V250.5"/><path class="tick" d="M312,262V250.5"/><path class="tick" d="M335,262V250.5"/>
<path class="tick" d="M59,282V274.5"/><path class="tick" d="M82,282V274.5"/><path class="tick" d="M105,282V274.5"/><path class="tick" d="M128,282V274.5"/><path class="tick" d="M151,282V274.5"/><path class="tick" d="M174,282V274.5"/><path class="tick" d="M197,282V274.5"/><path class="tick" d="M220,282V274.5"/><path class="tick" d="M243,282V274.5"/><path class="tick" d="M266,282V274.5"/><path class="tick" d="M289,282V274.5"/><path class="tick" d="M312,282V274.5"/><path class="tick" d="M335,282V274.5"/>
<path class="tick" d="M59,305V297"/><path class="tick" d="M82,305V297"/><path class="tick" d="M105,305V297"/><path class="tick" d="M128,305V297"/><path class="tick" d="M151,305V297"/><path class="tick" d="M174,305V297"/><path class="tick" d="M197,305V297"/><path class="tick" d="M220,305V297"/><path class="tick" d="M243,305V297"/><path class="tick" d="M266,305V297"/><path class="tick" d="M289,305V297"/><path class="tick" d="M312,305V297"/><path class="tick" d="M335,305V297"/>
<path class="tick" d="M59,327V319"/><path class="tick" d="M82,327V319"/><path class="tick" d="M105,327V319"/><path class="tick" d="M128,327V319"/><path class="tick" d="M151,327V319"/><path class="tick" d="M174,327V319"/><path class="tick" d="M197,327V319"/><path class="tick" d="M220,327V319"/><path class="tick" d="M243,327V319"/><path class="tick" d="M266,327V319"/><path class="tick" d="M289,327V319"/><path class="tick" d="M312,327V319"/><path class="tick" d="M335,327V319"/>
</g>
<g id="a-ticks">
<path class="tick" d="M59,405V396.5"/><path class="tick" d="M82,405V396.5"/><path class="tick" d="M105,405V396.5"/><path class="tick" d="M128,405V396.5"/><path class="tick" d="M151,405V396.5"/><path class="tick" d="M174,405V396.5"/><path class="tick" d="M197,405V396.5"/><path class="tick" d="M220,405V396.5"/><path class="tick" d="M243,405V396.5"/><path class="tick" d="M266,405V396.5"/><path class="tick" d="M289,405V396.5"/>
<path class="tick" d="M59,453V441"/><path class="tick" d="M82,453V441"/><path class="tick" d="M105,453V441"/><path class="tick" d="M128,453V441"/><path class="tick" d="M151,453V441"/><path class="tick" d="M174,453V441"/><path class="tick" d="M197,453V441"/><path class="tick" d="M220,453V441"/><path class="tick" d="M243,453V441"/><path class="tick" d="M266,453V441"/><path class="tick" d="M289,453V441"/>
<path class="tick" d="M59,473V465.5"/><path class="tick" d="M82,473V465.5"/><path class="tick" d="M105,473V465.5"/><path class="tick" d="M128,473V465.5"/><path class="tick" d="M151,473V465.5"/><path class="tick" d="M174,473V465.5"/><path class="tick" d="M197,473V465.5"/><path class="tick" d="M220,473V465.5"/><path class="tick" d="M243,473V465.5"/><path class="tick" d="M266,473V465.5"/><path class="tick" d="M289,473V465.5"/>
<path class="tick" d="M59,493V487.5"/><path class="tick" d="M82,493V487.5"/><path class="tick" d="M105,493V487.5"/><path class="tick" d="M128,493V487.5"/><path class="tick" d="M151,493V487.5"/><path class="tick" d="M174,493V487.5"/><path class="tick" d="M197,493V487.5"/><path class="tick" d="M220,493V487.5"/><path class="tick" d="M243,493V487.5"/><path class="tick" d="M266,493V487.5"/><path class="tick" d="M289,493V487.5"/>
<path class="tick" d="M59,514V506.5"/><path class="tick" d="M82,514V506.5"/><path class="tick" d="M105,514V506.5"/><path class="tick" d="M128,514V506.5"/><path class="tick" d="M151,514V506.5"/><path class="tick" d="M174,514V506.5"/><path class="tick" d="M197,514V506.5"/><path class="tick" d="M220,514V506.5"/><path class="tick" d="M243,514V506.5"/><path class="tick" d="M266,514V506.5"/><path class="tick" d="M289,514V506.5"/>
</g>
<g id="links">
<path class="big" d="M198,386V357.5"/>
<path class="big" d="M3,178V368H313V357.5"/>
<path class="big" d="M3,178H313V165.5"/>
<path class="big" d="M198,178V165.5"/>
<path class="dsh" d="M220,198V165.5"/>
<path class="dsh" d="M243,198V165.5"/>
<path class="dsh" d="M266,198V165.5"/>
</g>
</g>
</svg>
